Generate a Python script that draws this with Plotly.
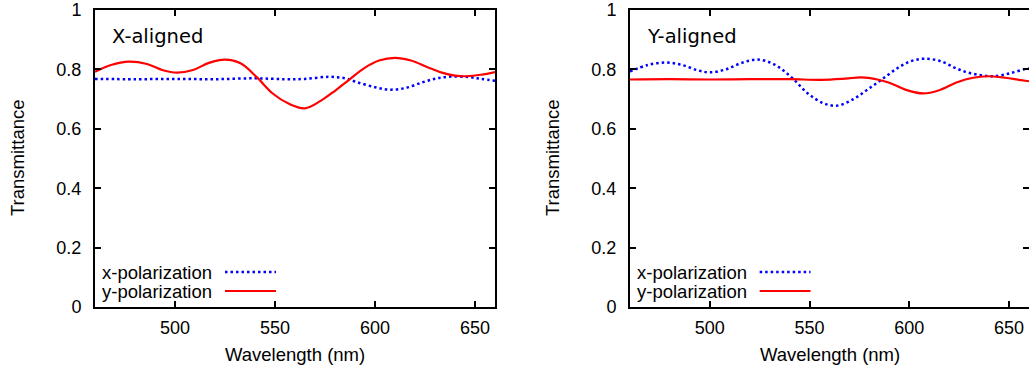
import plotly.graph_objects as go

# ---- data ----
# X-aligned panel
xa_ypol_wl = [460, 468, 477, 486, 494, 501, 509, 517, 525, 533, 541, 549, 557, 565, 573, 580, 587, 595, 602, 610, 618, 626, 633, 640, 646, 653, 660]
xa_ypol_T = [0.792, 0.815, 0.826, 0.818, 0.797, 0.789, 0.798, 0.822, 0.833, 0.820, 0.773, 0.718, 0.684, 0.669, 0.695, 0.728, 0.765, 0.806, 0.830, 0.839, 0.830, 0.808, 0.790, 0.779, 0.777, 0.782, 0.791]
xa_xpol_wl = [460, 480, 500, 520, 540, 555, 565, 577, 585, 591, 600, 607, 615, 624, 631, 638, 647, 653, 660]
xa_xpol_T = [0.768, 0.767, 0.768, 0.767, 0.770, 0.767, 0.768, 0.775, 0.770, 0.757, 0.740, 0.732, 0.737, 0.757, 0.770, 0.776, 0.774, 0.768, 0.762]

# Y-aligned panel
ya_xpol_wl = [460, 469, 478, 486, 494, 500, 508, 516, 524, 532, 541, 549, 557, 564, 572, 579, 586, 594, 601, 608, 616, 623, 629, 636, 642, 650, 658, 660]
ya_xpol_T = [0.793, 0.815, 0.823, 0.815, 0.797, 0.790, 0.800, 0.822, 0.833, 0.818, 0.773, 0.720, 0.686, 0.678, 0.700, 0.732, 0.765, 0.804, 0.828, 0.836, 0.827, 0.805, 0.790, 0.780, 0.777, 0.786, 0.801, 0.803]
ya_ypol_wl = [460, 480, 500, 520, 540, 556, 568, 576, 584, 590, 598, 607, 615, 624, 632, 639, 648, 655, 660]
ya_ypol_T = [0.766, 0.767, 0.766, 0.767, 0.767, 0.765, 0.769, 0.773, 0.766, 0.755, 0.732, 0.719, 0.730, 0.757, 0.772, 0.777, 0.772, 0.765, 0.760]

panel_labels = ["X-aligned", "Y-aligned"]
legend_labels = ["x-polarization", "y-polarization"]
x_ticks = [500, 550, 600, 650]
y_ticks = [0, 0.2, 0.4, 0.6, 0.8, 1]
y_tick_text = ["0", "0.2", "0.4", "0.6", "0.8", "1"]

BLUE = "#0000ff"
RED = "#ff0000"
W, H = 1029, 370
SANS = "Liberation Sans, Arial, sans-serif"

fig = go.Figure()

dot = dict(color=BLUE, width=2.5, dash="2.5px,3px")
sol = dict(color=RED, width=2.2)

fig.add_trace(go.Scatter(x=xa_xpol_wl, y=xa_xpol_T, mode="lines", line=dict(**dot, shape="spline", smoothing=1.0), xaxis="x", yaxis="y", showlegend=False))
fig.add_trace(go.Scatter(x=xa_ypol_wl, y=xa_ypol_T, mode="lines", line=dict(**sol, shape="spline", smoothing=1.0), xaxis="x", yaxis="y", showlegend=False))
fig.add_trace(go.Scatter(x=ya_xpol_wl, y=ya_xpol_T, mode="lines", line=dict(**dot, shape="spline", smoothing=1.0), xaxis="x2", yaxis="y2", showlegend=False))
fig.add_trace(go.Scatter(x=ya_ypol_wl, y=ya_ypol_T, mode="lines", line=dict(**sol, shape="spline", smoothing=1.0), xaxis="x2", yaxis="y2", showlegend=False))

tickfont = dict(family=SANS, size=18, color="#000")
ydom = [(H - 307) / H, (H - 10) / H]
xdom1 = [95 / W, 495 / W]
xdom2 = [630 / W, 1029 / W]

xcommon = dict(range=[460, 660], tickvals=x_ticks, ticks="inside", ticklen=6, tickwidth=1.5, tickcolor="#000",
               showline=True, linewidth=2, linecolor="#000", mirror="ticks", showgrid=False, zeroline=False,
               tickfont=tickfont, ticklabelstandoff=3, automargin=False)
ycommon = dict(range=[0, 1], tickvals=y_ticks, ticktext=y_tick_text, ticks="inside", ticklen=6, tickwidth=1.5, tickcolor="#000",
               showline=True, linewidth=2, linecolor="#000", mirror="ticks", showgrid=False, zeroline=False,
               tickfont=tickfont, ticklabelstandoff=8, automargin=False, domain=ydom)

fig.update_layout(
    width=W, height=H,
    margin=dict(l=0, r=0, t=0, b=0),
    paper_bgcolor="white", plot_bgcolor="white",
    showlegend=False,
    xaxis=dict(**xcommon, domain=xdom1, anchor="y"),
    yaxis=dict(**ycommon, anchor="x"),
    xaxis2=dict(**xcommon, domain=xdom2, anchor="y2"),
    yaxis2=dict(**ycommon, anchor="x2"),
)

annots = []
shapes = []
for i, xd in enumerate([xdom1, xdom2]):
    xref_dom = ("x" if i == 0 else "x2") + " domain"
    yref_dom = ("y" if i == 0 else "y2") + " domain"
    # axis titles
    annots.append(dict(text="Wavelength (nm)", xref="paper", yref="paper", x=(xd[0] + xd[1]) / 2, y=(H - 354) / H,
                       showarrow=False, xanchor="center", yanchor="middle",
                       font=dict(family=SANS, size=18.5, color="#000")))
    annots.append(dict(text="Transmittance", xref="paper", yref="paper", x=(xd[0] * W - 78) / W, y=(H - 158) / H,
                       showarrow=False, xanchor="center", yanchor="middle", textangle=-90,
                       font=dict(family=SANS, size=18.5, color="#000")))
    # panel label
    annots.append(dict(text=panel_labels[i], xref=xref_dom, yref=yref_dom, x=15 / 400, y=1 - 27 / 297,
                       showarrow=False, xanchor="left", yanchor="middle",
                       font=dict(family="DejaVu Sans, sans-serif", size=19.5, color="#000")))
    # legend (text left, sample right)
    for j, (lab, col, dash, lw) in enumerate([(legend_labels[0], BLUE, "2.5px,3px", 2.5), (legend_labels[1], RED, "solid", 2.2)]):
        yy = 1 - (262 + 19 * j) / 297
        annots.append(dict(text=lab, xref=xref_dom, yref=yref_dom, x=5 / 400, y=yy,
                           showarrow=False, xanchor="left", yanchor="middle",
                           font=dict(family=SANS, size=18.5, color="#000")))
        shapes.append(dict(type="line", xref=xref_dom, yref=yref_dom, x0=130 / 400, x1=181 / 400, y0=yy, y1=yy,
                           line=dict(color=col, width=lw, dash=dash)))

fig.update_layout(annotations=annots, shapes=shapes)
fig.write_html("out.html", config={"displayModeBar": False},
               post_script="document.body.style.margin='0';document.body.style.padding='0';")
